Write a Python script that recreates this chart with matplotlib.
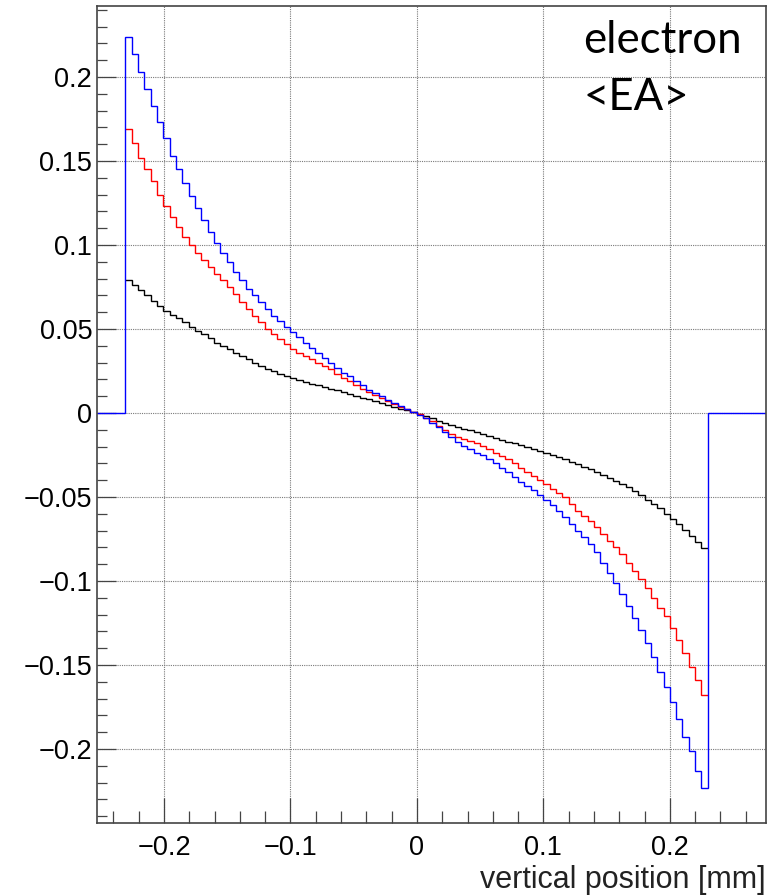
import numpy as np
import matplotlib.pyplot as plt
from matplotlib.ticker import MultipleLocator

# histogram range (mm) and the visible axis range
hist_lo, hist_hi = -0.2305, 0.2300
x_range = (-0.253, 0.276)
y_range = (-0.244, 0.2423)

# bin contents, 92 bins of about 0.005 mm
black = [
    0.079, 0.076, 0.073, 0.070, 0.067, 0.064, 0.061, 0.0585, 0.0565, 0.054,
    0.0515, 0.049, 0.047, 0.0445, 0.042, 0.040, 0.038, 0.036, 0.034, 0.032,
    0.030, 0.028, 0.0265, 0.025, 0.0235, 0.022, 0.021, 0.0198, 0.0186, 0.0175,
    0.0165, 0.0155, 0.0145, 0.0135, 0.0125, 0.0114, 0.0103, 0.0092, 0.0081, 0.0070,
    0.0059, 0.0048, 0.0037, 0.0026, 0.0016, 0.0005,
    -0.0006, -0.0019, -0.0032, -0.0045, -0.0058, -0.0070, -0.0081, -0.0092, -0.0103, -0.0115,
    -0.0127, -0.0138, -0.0150, -0.0160, -0.0170, -0.0180, -0.0191, -0.0202, -0.0213, -0.0224,
    -0.0236, -0.0248, -0.0262, -0.0275, -0.0290, -0.0305, -0.032, -0.0335, -0.035, -0.0367,
    -0.0385, -0.0403, -0.0422, -0.0442, -0.0465, -0.049, -0.0515, -0.054, -0.0568, -0.0598,
    -0.063, -0.0662, -0.0695, -0.073, -0.077, -0.0805,
]
red = [
    0.169, 0.161, 0.152, 0.145, 0.138, 0.130, 0.123, 0.117, 0.111, 0.105,
    0.100, 0.095, 0.091, 0.087, 0.083, 0.079, 0.075, 0.071, 0.066, 0.062,
    0.058, 0.054, 0.050, 0.047, 0.044, 0.041, 0.038, 0.036, 0.034, 0.032,
    0.030, 0.028, 0.026, 0.023, 0.021, 0.019, 0.0165, 0.0145, 0.0125, 0.0105,
    0.0087, 0.0070, 0.0053, 0.0037, 0.0022, 0.0007,
    -0.0008, -0.0028, -0.0050, -0.0075, -0.0100, -0.0122, -0.0140, -0.0155, -0.0168, -0.0180,
    -0.0195, -0.0215, -0.0235, -0.0255, -0.0275, -0.030, -0.0325, -0.035, -0.0375, -0.040,
    -0.0425, -0.045, -0.0475, -0.050, -0.054, -0.058, -0.061, -0.064, -0.068, -0.072,
    -0.076, -0.080, -0.084, -0.089, -0.094, -0.099, -0.104, -0.110, -0.116, -0.121,
    -0.128, -0.135, -0.143, -0.151, -0.159, -0.168,
]
blue = [
    0.224, 0.214, 0.203, 0.193, 0.183, 0.173, 0.164, 0.153, 0.145, 0.137,
    0.129, 0.122, 0.115, 0.108, 0.101, 0.095, 0.090, 0.084, 0.079, 0.074,
    0.070, 0.066, 0.062, 0.058, 0.055, 0.051, 0.048, 0.045, 0.042, 0.039,
    0.036, 0.033, 0.030, 0.027, 0.024, 0.022, 0.019, 0.017, 0.014, 0.012,
    0.010, 0.0078, 0.0060, 0.0043, 0.0026, 0.0009,
    -0.0010, -0.0032, -0.0058, -0.0085, -0.0115, -0.0145, -0.0170, -0.0195, -0.0215, -0.0235,
    -0.0250, -0.0275, -0.030, -0.0325, -0.035, -0.038, -0.041, -0.0435, -0.046, -0.0485,
    -0.0515, -0.0545, -0.058, -0.062, -0.066, -0.070, -0.074, -0.078, -0.083, -0.089,
    -0.095, -0.101, -0.108, -0.115, -0.122, -0.129, -0.137, -0.145, -0.154, -0.163,
    -0.172, -0.182, -0.193, -0.201, -0.213, -0.223,
]


def fmt(v, pos):
    return f"{v:g}".replace("-", "\u2212")


def main():
    plt.rcParams["font.family"] = ["Liberation Sans", "DejaVu Sans"]

    edges = np.linspace(hist_lo, hist_hi, len(blue) + 1)
    # blue histogram covers the full axis, empty outside the sensor
    blue_edges = np.concatenate([[x_range[0]], edges, [x_range[1]]])
    blue_vals = np.concatenate([[0.0], blue, [0.0]])

    fig = plt.figure(figsize=(7.71, 8.96), dpi=100)
    ax = fig.add_axes([0.1258, 0.0815, 0.8677, 0.9118])

    ax.stairs(black, edges, color="black", lw=1.0, baseline=None)
    ax.stairs(red, edges, color="#ff0000", lw=1.0, baseline=None)
    ax.stairs(blue_vals, blue_edges, color="#0000ff", lw=1.0, baseline=None)

    ax.set_xlim(*x_range)
    ax.set_ylim(*y_range)

    ax.xaxis.set_major_locator(MultipleLocator(0.1))
    ax.xaxis.set_minor_locator(MultipleLocator(0.02))
    ax.yaxis.set_major_locator(MultipleLocator(0.05))
    ax.yaxis.set_minor_locator(MultipleLocator(0.01))
    ax.xaxis.set_major_formatter(plt.FuncFormatter(fmt))
    ax.yaxis.set_major_formatter(plt.FuncFormatter(fmt))

    ax.grid(True, which="major", color="#7a7a7a", ls=(0, (1, 1)), lw=0.8)
    ax.set_axisbelow(True)

    ax.tick_params(axis="both", which="both", direction="in", color="#444444",
                   width=0.9, labelsize=19.5, top=False, right=False)
    ax.tick_params(axis="y", which="major", length=13.5, pad=3.5)
    ax.tick_params(axis="y", which="minor", length=7.2)
    ax.tick_params(axis="x", which="major", length=18, pad=9)
    ax.tick_params(axis="x", which="minor", length=9)
    for sp in ax.spines.values():
        sp.set_color("#444444")
        sp.set_linewidth(1.2)

    fig.text(0.993, 0.009, "vertical position [mm]", ha="right", va="baseline",
             fontsize=22, color="#222222")

    ax.text(0.7265, 0.9425, "electron", transform=ax.transAxes, fontsize=31.5,
            family=["Lato", "DejaVu Sans"], va="baseline")
    ax.text(0.7265, 0.8727, "<EA>", transform=ax.transAxes, fontsize=31.5,
            family=["Lato", "DejaVu Sans"], va="baseline")

    fig.savefig("out.png", dpi=100)


if __name__ == "__main__":
    main()
